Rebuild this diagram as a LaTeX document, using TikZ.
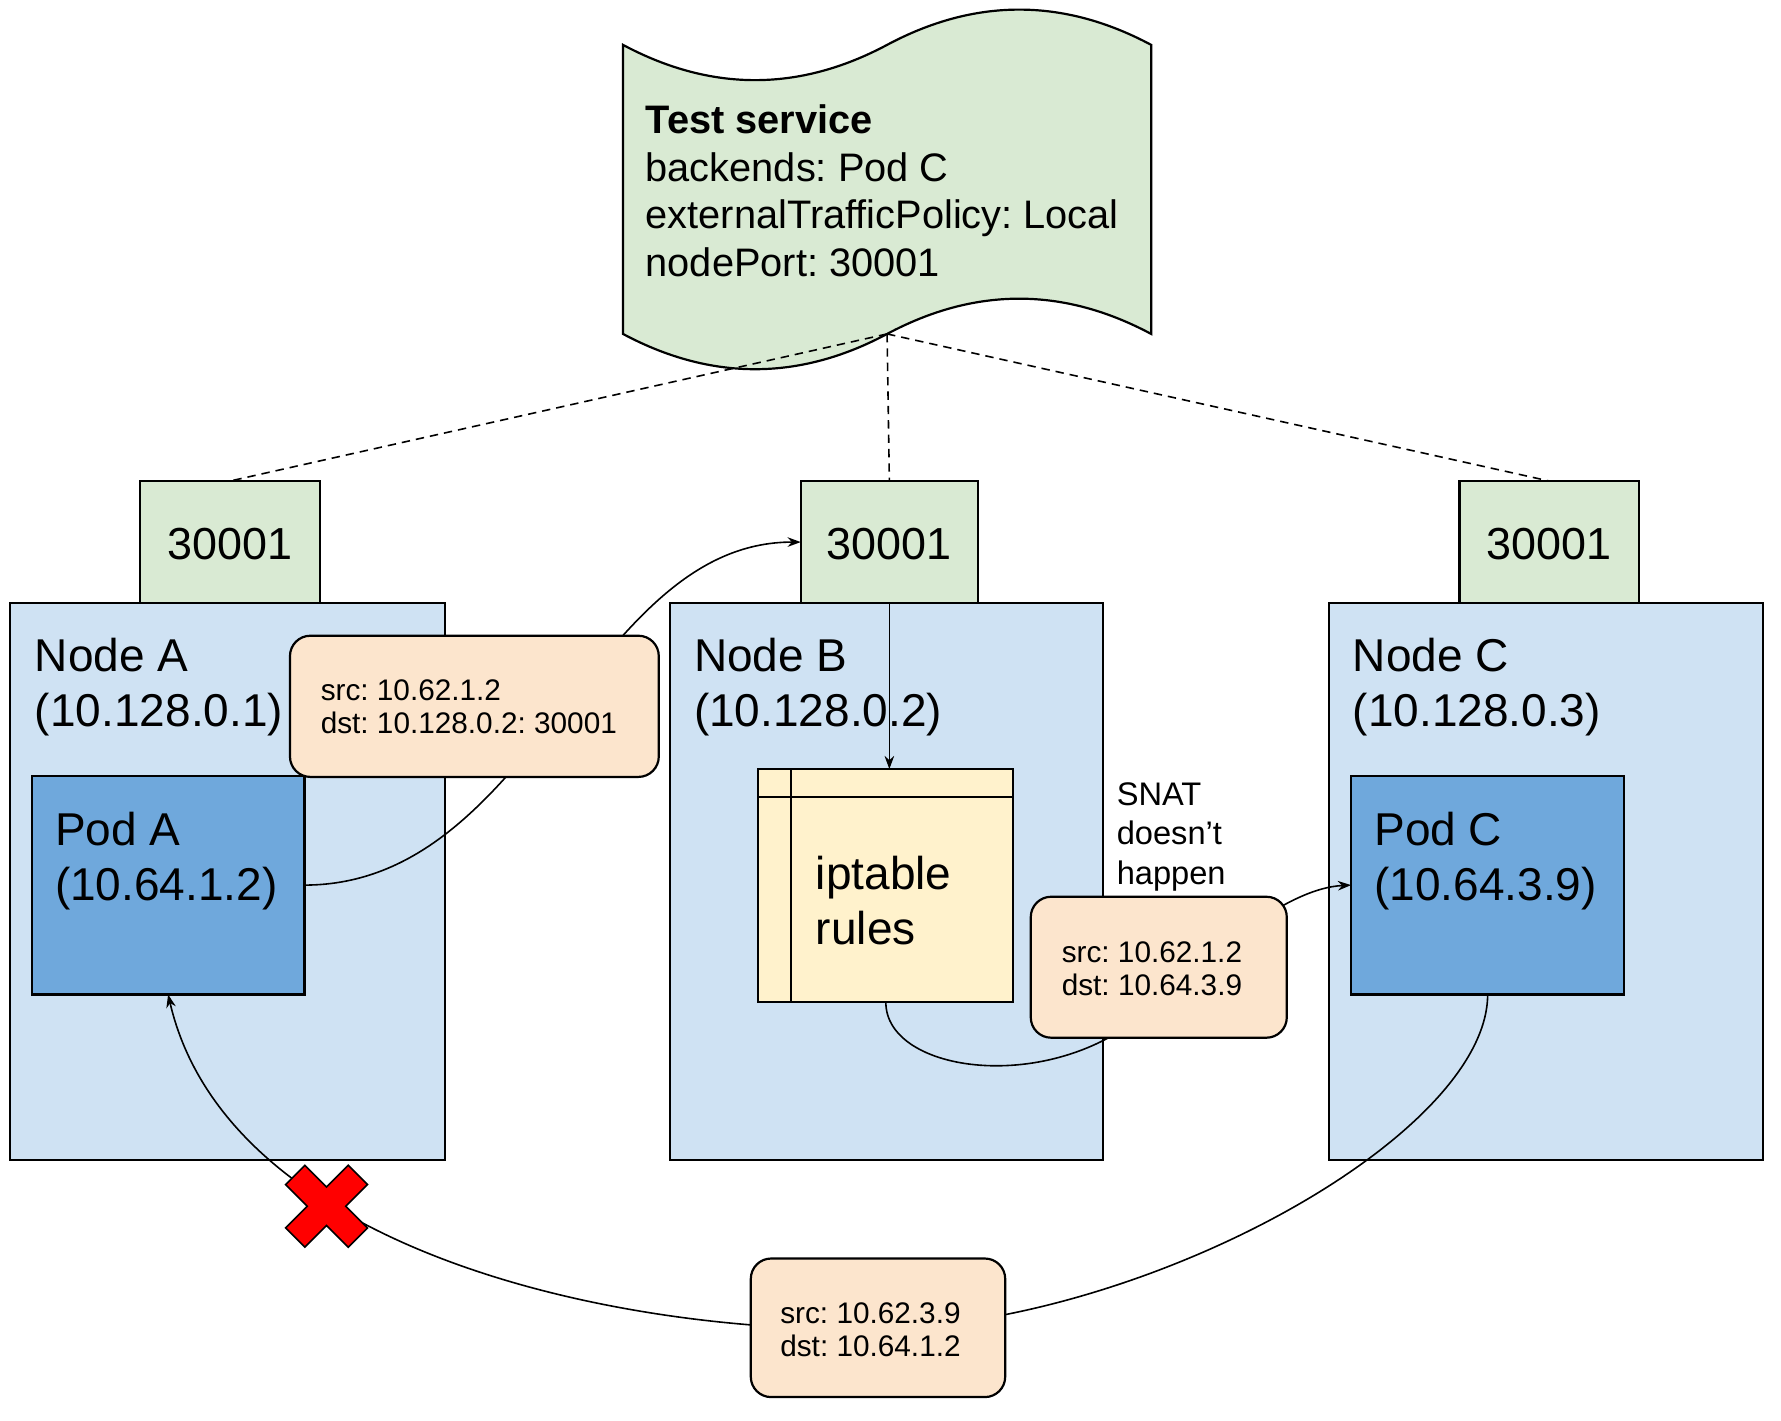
\documentclass[tikz,border=0pt]{standalone}
\usepackage{fontspec}
\setmainfont{Liberation Sans}
\usetikzlibrary{arrows.meta,fit}
\definecolor{cgreen}{HTML}{D9EAD3}
\definecolor{cnode}{HTML}{CFE2F3}
\definecolor{cpod}{HTML}{6FA8DC}
\definecolor{cipt}{HTML}{FFF2CC}
\definecolor{cpkt}{HTML}{FCE5CD}
\definecolor{cred}{HTML}{FF0000}
\newcommand\fbig{\fontsize{11.52pt}{13.77pt}\selectfont}
\newcommand\fport{\fontsize{11.24pt}{13.5pt}\selectfont}
\newcommand\ftape{\fontsize{9.96pt}{11.95pt}\selectfont}
\newcommand\fpkt{\fontsize{7.45pt}{8.37pt}\selectfont}
\newcommand\fsnat{\fontsize{8.17pt}{9.89pt}\selectfont}
\frenchspacing
\begin{document}
\begin{tikzpicture}[x=0.01cm,y=-0.01cm,
  box/.style={draw=black, line width=0.55pt, inner sep=0pt, outer sep=0pt},
  nodebox/.style={box, fill=cnode},
  portbox/.style={box, fill=cgreen},
  podbox/.style={box, fill=cpod},
  iptbox/.style={box, fill=cipt},
  pktbox/.style={box, fill=cpkt, rounded corners=5.1pt},
  lbl/.style={inner sep=0pt, outer sep=0pt, anchor=base west, text=black},
  conn/.style={draw=black, line width=0.4pt},
  arr/.style={conn, -{Stealth[length=3.3pt,width=2.4pt]}},
  dashline/.style={draw=black, line width=0.4pt, dash pattern=on 2.1pt off 1.5pt},
]
\useasboundingbox (0,0) rectangle (1568,1251);

% service tape
\draw[line width=0.55pt, fill=cgreen] (548.5,39.5) .. controls (626,80.9) and (703.5,80.9) .. (781,39.5)
  .. controls (858.5,-1.9) and (936,-1.9) .. (1013.5,39.5) -- (1013.5,294)
  .. controls (936,252.6) and (858.5,252.6) .. (781,294)
  .. controls (703.5,335.4) and (626,335.4) .. (548.5,294) -- cycle;
\coordinate (svc) at (781,294);
\node[lbl, font=\ftape] (svctext) at (568.5,117.4)
  {\begin{tabular}[t]{@{}l@{}}\textbf{Test service}\\backends: Pod C\\externalTrafficPolicy: Local\\nodePort: 30001\end{tabular}};

% nodes
\node[nodebox, fit={(8.8,531) (392,1021)}] (nodeA) {};
\node[nodebox, fit={(590,531) (971.4,1021)}] (nodeB) {};
\node[nodebox, fit={(1170.4,531) (1552,1021)}] (nodeC) {};

% ports
\node[portbox, fit={(123,423.5) (282,531)}] (portA) {};
\node[portbox, fit={(705,423.5) (861,531)}] (portB) {};
\node[portbox, fit={(1285,423.5) (1443,531)}] (portC) {};
\node[lbl, anchor=base, font=\fport] (portAt) at (202.5,492.4) {30001};
\node[lbl, anchor=base, font=\fport] (portBt) at (783,492.4) {30001};
\node[lbl, anchor=base, font=\fport] (portCt) at (1364,492.4) {30001};

% pods and iptables
\node[podbox, fit={(28,683) (268,875.5)}] (podA) {};
\node[podbox, fit={(1189.5,683) (1430,875.5)}] (podC) {};
\node[iptbox, fit={(667.6,677.1) (892.2,882.5)}] (ipt) {};
\draw[line width=0.55pt] (667.6,701.4) -- (892.2,701.4);
\draw[line width=0.55pt] (696.2,677.1) -- (696.2,882.5);

% labels
\node[lbl, font=\fbig] (nodeAt) at (30.8,590.8) {\begin{tabular}[t]{@{}l@{}}Node A\\(10.128.0.1)\end{tabular}};
\node[lbl, font=\fbig] (nodeBt) at (611,590.8) {\begin{tabular}[t]{@{}l@{}}Node B\\(10.128.0.2)\end{tabular}};
\node[lbl, font=\fbig] (nodeCt) at (1191,590.8) {\begin{tabular}[t]{@{}l@{}}Node C\\(10.128.0.3)\end{tabular}};
\node[lbl, font=\fbig] (podAt) at (48.5,744) {\begin{tabular}[t]{@{}l@{}}Pod A\\(10.64.1.2)\end{tabular}};
\node[lbl, font=\fbig] (podCt) at (1210,744) {\begin{tabular}[t]{@{}l@{}}Pod C\\(10.64.3.9)\end{tabular}};
\node[lbl, font=\fbig] (iptt) at (718.4,783) {\begin{tabular}[t]{@{}l@{}}iptable\\rules\end{tabular}};

% dashed links
\draw[dashline] (svc) -- (portA.north);
\draw[dashline] (svc) -- (portB.north);
\draw[dashline] (svc) -- (portC.north);

% connectors
\draw[arr] (podA.east) .. controls (470,779) and (520,477) .. (portB.west);
\draw[arr] (portB.south) -- (portB.south |- ipt.north);
\coordinate (via1) at (1010,890);
\draw[arr] (ipt.south) .. controls (780,945) and (925,965) .. (via1)
  .. controls (1060,846) and (1130,782) .. (podC.west);
\coordinate (via2) at (775,1170);
\draw[arr] (podC.south) .. controls (1309.5,1000) and (1010,1165) .. (via2)
  .. controls (540,1175) and (200,1100) .. (podA.south);

% packets
\node[pktbox, fit={(255.3,559.7) (580,684)}] (pkt1) {};
\node[lbl, font=\fpkt] (pkt1t) at (282.4,616.3) {\begin{tabular}[t]{@{}l@{}}src: 10.62.1.2\\dst: 10.128.0.2: 30001\end{tabular}};
\node[pktbox, fit={(907.5,789.5) (1132.9,913.6)}] (pkt2) {};
\node[lbl, font=\fpkt] (pkt2t) at (934.8,847.3) {\begin{tabular}[t]{@{}l@{}}src: 10.62.1.2\\dst: 10.64.3.9\end{tabular}};
\node[pktbox, fit={(661,1108) (885,1230)}] (pkt3) {};
\node[lbl, font=\fpkt] (pkt3t) at (687,1165) {\begin{tabular}[t]{@{}l@{}}src: 10.62.3.9\\dst: 10.64.1.2\end{tabular}};

% SNAT note
\node[lbl, font=\fsnat] (snat) at (983.2,708.8) {\begin{tabular}[t]{@{}l@{}}SNAT\\doesn't\\happen\end{tabular}};

% red cross
\begin{scope}[shift={(287.5,1062)}, rotate=45]
\draw[fill=cred, draw=black, line width=0.4pt] (12,12) -- (39,12) -- (39,-12) -- (12,-12) -- (12,-39) -- (-12,-39) -- (-12,-12) -- (-39,-12) -- (-39,12) -- (-12,12) -- (-12,39) -- (12,39) -- cycle;
\end{scope}
\end{tikzpicture}
\end{document}
